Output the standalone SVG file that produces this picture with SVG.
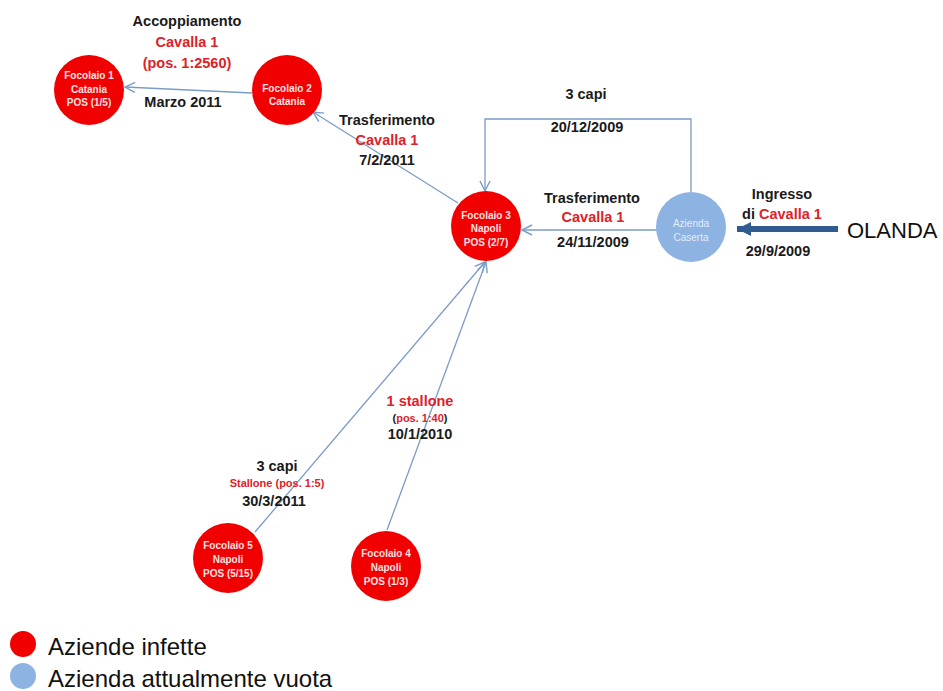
<svg xmlns="http://www.w3.org/2000/svg" width="943" height="691" viewBox="0 0 943 691">
<defs>
<marker id="arr" markerUnits="userSpaceOnUse" markerWidth="14" markerHeight="14" refX="11" refY="6" orient="auto" viewBox="0 0 14 12">
<path d="M1,1 L11,6 L1,11" fill="none" stroke="#7b9cc6" stroke-width="1.4"/>
</marker>
<marker id="thick" markerUnits="userSpaceOnUse" markerWidth="16" markerHeight="16" refX="14" refY="8" orient="auto" viewBox="0 0 16 16">
<path d="M0,1 L14,8 L0,15 Z" fill="#2f5b8f"/>
</marker>
</defs>
<style>
.bg{fill:#ffffff}
.red{fill:#f00000}
.blue{fill:#8db3e2}
.nt{font-family:"Liberation Sans",Arial,sans-serif;font-size:10px;font-weight:bold;fill:#fbe3e3;text-anchor:middle}
.bt{font-family:"Liberation Sans",Arial,sans-serif;font-size:10px;fill:#e4ecf6;text-anchor:middle}
.lb{font-family:"Liberation Sans",Arial,sans-serif;font-size:14.5px;font-weight:bold;fill:#1a1a1a;text-anchor:middle}
.lr{font-family:"Liberation Sans",Arial,sans-serif;font-size:14.5px;font-weight:bold;fill:#dd2229;text-anchor:middle}
.sr{font-family:"Liberation Sans",Arial,sans-serif;font-size:11px;font-weight:bold;fill:#dd2229;text-anchor:middle}
.leg{font-family:"Liberation Sans",Arial,sans-serif;font-size:24px;fill:#111111}
.conn{fill:none;stroke:#7b9cc6;stroke-width:1.3}
</style>
<rect class="bg" x="0" y="0" width="943" height="691"/>

<g id="connectors">
<line class="conn" x1="252" y1="93" x2="125" y2="87" marker-end="url(#arr)"/>
<line class="conn" x1="458" y1="203" x2="313" y2="112" marker-end="url(#arr)"/>
<line class="conn" x1="657" y1="230" x2="522" y2="230" marker-end="url(#arr)"/>
<polyline class="conn" points="691,192 691,119 485,119 485,191" marker-end="url(#arr)"/>
<line class="conn" x1="255" y1="532" x2="485" y2="262" marker-end="url(#arr)"/>
<line class="conn" x1="387" y1="530" x2="486" y2="262" marker-end="url(#arr)"/>
<line x1="838" y1="229" x2="737" y2="229" stroke="#2f5b8f" stroke-width="6" marker-end="url(#thick)"/>
</g>

<g id="focolaio1">
<circle class="red" cx="89" cy="90" r="35"/>
<text class="nt" x="89" y="79">Focolaio 1</text>
<text class="nt" x="89" y="93">Catania</text>
<text class="nt" x="89" y="106">POS (1/5)</text>
</g>
<g id="focolaio2">
<circle class="red" cx="287" cy="90" r="35"/>
<text class="nt" x="287" y="92">Focolaio 2</text>
<text class="nt" x="287" y="105">Catania</text>
</g>
<g id="focolaio3">
<circle class="red" cx="486" cy="226" r="35"/>
<text class="nt" x="486" y="219">Focolaio 3</text>
<text class="nt" x="486" y="232">Napoli</text>
<text class="nt" x="486" y="246">POS (2/7)</text>
</g>
<g id="caserta">
<circle class="blue" cx="691" cy="227" r="35"/>
<text class="bt" x="691" y="227">Azienda</text>
<text class="bt" x="691" y="241">Caserta</text>
</g>
<g id="focolaio5">
<circle class="red" cx="228" cy="558" r="35"/>
<text class="nt" x="228" y="549">Focolaio 5</text>
<text class="nt" x="228" y="563">Napoli</text>
<text class="nt" x="228" y="577">POS (5/15)</text>
</g>
<g id="focolaio4">
<circle class="red" cx="386" cy="566" r="35"/>
<text class="nt" x="386" y="557">Focolaio 4</text>
<text class="nt" x="386" y="571">Napoli</text>
<text class="nt" x="386" y="585">POS (1/3)</text>
</g>
<g id="olanda">
<text x="847" y="238" font-family="Liberation Sans, Arial, sans-serif" font-size="22" fill="#111111">OLANDA</text>
</g>

<g id="labels">
<text class="lb" x="187" y="26">Accoppiamento</text>
<text class="lr" x="187" y="47">Cavalla 1</text>
<text class="lr" x="187" y="68">(pos. 1:2560)</text>
<text class="lb" x="183" y="107">Marzo 2011</text>

<text class="lb" x="387" y="125">Trasferimento</text>
<text class="lr" x="387" y="145">Cavalla 1</text>
<text class="lb" x="387" y="165">7/2/2011</text>

<text class="lb" x="586" y="99">3 capi</text>
<text class="lb" x="587" y="132">20/12/2009</text>

<text class="lb" x="592" y="203">Trasferimento</text>
<text class="lr" x="593" y="222">Cavalla 1</text>
<text class="lb" x="593" y="247">24/11/2009</text>

<text class="lb" x="782" y="199">Ingresso</text>
<text class="lb" x="782" y="219">di <tspan fill="#dd2229">Cavalla 1</tspan></text>
<text class="lb" x="778" y="256">29/9/2009</text>

<text class="lr" x="420" y="406">1 stallone</text>
<text class="sr" x="420" y="422"><tspan fill="#1a1a1a">(</tspan>pos. 1:40<tspan fill="#1a1a1a">)</tspan></text>
<text class="lb" x="420" y="439">10/1/2010</text>

<text class="lb" x="277" y="471">3 capi</text>
<text class="sr" x="277" y="487">Stallone (pos. 1:5)</text>
<text class="lb" x="274" y="506">30/3/2011</text>
</g>

<g id="legend">
<circle class="red" cx="23" cy="644" r="13"/>
<text class="leg" x="48" y="655">Aziende infette</text>
<circle class="blue" cx="23" cy="676" r="13"/>
<text class="leg" x="48" y="687">Azienda attualmente vuota</text>
</g>
</svg>
